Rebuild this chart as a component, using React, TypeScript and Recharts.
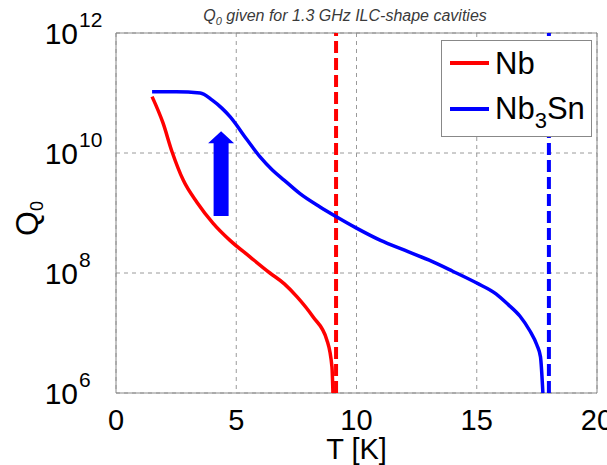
import {
  LineChart, Line, XAxis, YAxis, CartesianGrid, ReferenceLine, ReferenceArea, Legend
} from 'recharts';

// temperature ticks (K) and Q0 decades
const tempTicks = [0, 5, 10, 15, 20];
const q0Ticks = [1e6, 1e8, 1e10, 1e12];

// Nb curve
const nbData = [
  { t: 1.5, q: 8.7e10 },
  { t: 1.95, q: 3.2e10 },
  { t: 2.33, q: 1.05e10 },
  { t: 2.8, q: 3.5e9 },
  { t: 3.37, q: 1.5e9 },
  { t: 4.03, q: 6.8e8 },
  { t: 4.74, q: 3.5e8 },
  { t: 5.57, q: 1.86e8 },
  { t: 6.4, q: 1.0e8 },
  { t: 7.0, q: 6.6e7 },
  { t: 7.53, q: 4.0e7 },
  { t: 8.19, q: 1.86e7 },
  { t: 8.77, q: 7.6e6 },
  { t: 8.98, q: 2.7e6 },
  { t: 9.02, q: 1.0e6 },
];

// Nb3Sn curve
const nb3snData = [
  { t: 1.5, q: 1.05e11 },
  { t: 2.5, q: 1.05e11 },
  { t: 3.5, q: 1.0e11 },
  { t: 4.0, q: 7.6e10 },
  { t: 4.4, q: 5.6e10 },
  { t: 4.75, q: 4.0e10 },
  { t: 5.45, q: 1.66e10 },
  { t: 6.0, q: 8.5e9 },
  { t: 6.5, q: 5.2e9 },
  { t: 7.0, q: 3.5e9 },
  { t: 7.65, q: 2.1e9 },
  { t: 8.5, q: 1.25e9 },
  { t: 9.2, q: 8.5e8 },
  { t: 10.0, q: 5.6e8 },
  { t: 11.0, q: 3.5e8 },
  { t: 12.0, q: 2.4e8 },
  { t: 13.0, q: 1.65e8 },
  { t: 14.0, q: 1.07e8 },
  { t: 15.0, q: 6.8e7 },
  { t: 15.8, q: 4.5e7 },
  { t: 16.3, q: 3.0e7 },
  { t: 16.8, q: 1.9e7 },
  { t: 17.2, q: 1.1e7 },
  { t: 17.5, q: 6.3e6 },
  { t: 17.65, q: 4.0e6 },
  { t: 17.75, q: 1.0e6 },
];

// critical temperatures (dashed lines)
const tcNb = 9.15;
const tcNb3Sn = 18;

// improvement arrow
const arrowPoints = [
  { x: 4.37, y: 8.9e8 },
  { x: 4.37, y: 2.3e10 },
];

const FONT = 'Liberation Sans, Arial, sans-serif';

const PowerTick = (props: any) => {
  const { x, y, payload } = props;
  const exp = Math.round(Math.log10(payload.value));
  return (
    <g>
      <text x={x - 30} y={y + 11} textAnchor="end" fontSize={30} fontFamily={FONT} fill="#000">10</text>
      <text x={x - 29} y={y - 6} textAnchor="start" fontSize={21} fontFamily={FONT} fill="#000">{exp}</text>
    </g>
  );
};

const TempTick = (props: any) => {
  const { x, y, payload } = props;
  return (
    <text x={x} y={y + 29} textAnchor="middle" fontSize={29} fontFamily={FONT} fill="#000">
      {payload.value}
    </text>
  );
};

const QLabel = () => (
  <text transform="rotate(-90)" x={-236} y={38} fontSize={32} fontFamily={FONT} fill="#000">
    Q<tspan fontSize={18} dy={5}>0</tspan>
  </text>
);

const Arrow = (props: any) => {
  const { x1, y1, y2 } = props;
  const bottom = Math.max(y1, y2);
  const tip = Math.min(y1, y2);
  const headBase = tip + 12;
  const pts = [
    [x1 - 7.5, bottom], [x1 + 7.5, bottom], [x1 + 7.5, headBase], [x1 + 13, headBase],
    [x1, tip], [x1 - 13, headBase], [x1 - 7.5, headBase],
  ].map((p) => p.join(',')).join(' ');
  return <polygon points={pts} fill="#0000ff" />;
};

const LegendBox = () => (
  <div style={{
    position: 'relative', width: 151, height: 97, border: '1px solid #888',
    background: '#fff', boxSizing: 'border-box', fontFamily: FONT, color: '#000',
  }}>
    <div style={{ position: 'absolute', left: 8, top: 20, width: 39, height: 4, background: '#ff0000' }} />
    <div style={{ position: 'absolute', left: 53, top: 7, fontSize: 31, lineHeight: '31px' }}>Nb</div>
    <div style={{ position: 'absolute', left: 8, top: 66, width: 39, height: 4, background: '#0000ff' }} />
    <div style={{ position: 'absolute', left: 53, top: 52, fontSize: 31, lineHeight: '31px', whiteSpace: 'nowrap' }}>
      Nb<span style={{ fontSize: 22, position: 'relative', top: 9 }}>3</span>Sn
    </div>
  </div>
);

export default function App() {
  return (
    <div style={{ position: 'absolute', left: 0, top: 0, width: 607, height: 465, background: '#fff' }}>
      <div style={{
        position: 'absolute', left: 345, top: 8, transform: 'translateX(-50%)', whiteSpace: 'nowrap',
        fontFamily: FONT, fontStyle: 'italic', fontSize: 16, lineHeight: '16px', color: '#3a3a3a', zIndex: 2,
      }}>
        Q<sub style={{ fontSize: 11 }}>0</sub> given for 1.3 GHz ILC-shape cavities
      </div>
      <LineChart width={607} height={465} margin={{ top: 33, right: 10, left: 0, bottom: 0 }}>
        <CartesianGrid stroke="#9a9a9a" strokeDasharray="4 4" />
        <XAxis
          dataKey="t" type="number" domain={[0, 20]} ticks={tempTicks} height={72}
          axisLine={false} tickLine={false} tick={<TempTick />} allowDataOverflow
          label={{ value: 'T [K]', position: 'insideBottom', offset: 6, fontSize: 29, fill: '#000', fontFamily: FONT }}
        />
        <YAxis
          dataKey="q" type="number" scale="log" domain={[1e6, 1e12]} ticks={q0Ticks} width={116}
          axisLine={false} tickLine={false} tick={<PowerTick />} allowDataOverflow
          label={<QLabel />}
        />
        <ReferenceArea x1={0} x2={20} y1={1e6} y2={1e12} fill="none" stroke="#888" strokeWidth={1} />
        <ReferenceLine x={tcNb} stroke="#ff0000" strokeWidth={4} strokeDasharray="12 5" />
        <ReferenceLine x={tcNb3Sn} stroke="#0000ff" strokeWidth={4} strokeDasharray="12 5" />
        <ReferenceLine segment={arrowPoints} shape={<Arrow />} />
        <Line data={nbData} dataKey="q" name="Nb" type="monotone" stroke="#ff0000" strokeWidth={3.5}
          dot={false} isAnimationActive={false} />
        <Line data={nb3snData} dataKey="q" name="Nb3Sn" type="monotone" stroke="#0000ff" strokeWidth={3.5}
          dot={false} isAnimationActive={false} />
        <Legend layout="vertical" align="center" verticalAlign="middle" content={<LegendBox />}
          wrapperStyle={{ left: 441, top: 40, width: 151, height: 97 }} />
      </LineChart>
    </div>
  );
}
